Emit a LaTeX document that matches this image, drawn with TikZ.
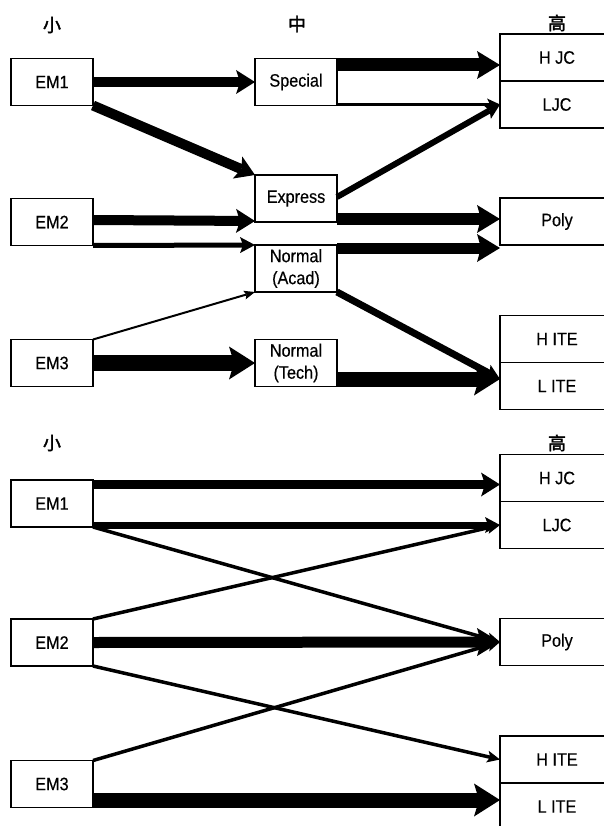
\documentclass[tikz,border=0pt]{standalone}
\usepackage{fontspec}
\setmainfont{Liberation Sans}[FakeStretch=0.9, FakeBold=0.4]
\newfontfamily\cjkfont{Noto Sans CJK SC}[FakeBold=2]
\usetikzlibrary{positioning,arrows.meta}

\tikzset{
  box/.style={draw, line width=1.4pt, outer sep=0pt, inner sep=0pt,
    minimum width=82pt, minimum height=47pt, align=center,
    font=\fontsize{18}{22}\selectfont},
  rbox/.style={box, minimum width=114pt},
  head/.style={font=\cjkfont\fontsize{18}{18}\selectfont},
  flowxl/.style={line width=16pt, -{Stealth[length=26pt, width=33pt, inset=5pt, line width=0pt]}},
  flowl/.style={line width=12pt, -{Stealth[length=23pt, width=28pt, inset=4pt, line width=0pt]}},
  flowm/.style={line width=10pt, -{Stealth[length=19pt, width=24pt, inset=4pt, line width=0pt]}},
  flows/.style={line width=6pt, -{Stealth[length=15pt, width=16pt, inset=3pt, line width=0pt]}},
  flowxs/.style={line width=3.5pt, -{Stealth[length=13pt, width=12pt, inset=3pt, line width=0pt]}},
  flowthin/.style={line width=2pt, -{Stealth[length=11pt, width=9pt, inset=2pt, line width=0pt]}}
}

\begin{document}
\begin{tikzpicture}[x=1pt, y=-1pt]
  \useasboundingbox (0,0) rectangle (603,826);

  % Define vertices (upper chart)
  \node[head] (s1) at (52,25) {小};
  \node[head] (m1) at (297,24) {中};
  \node[head] (h1) at (557,23) {高};
  \node[box] (EM1) at (52,82) {EM1};
  \node[box] (EM2) at (52,222) {EM2};
  \node[box] (EM3) at (52,363) {EM3};
  \node[box, right=162pt of EM1] (Special) {Special};
  \node[box] (Express) at (296,198.5) {Express};
  \node[box, below=23pt of Express] (Acad) {Normal\\(Acad)};
  \node[box, right=162pt of EM3] (Tech) {Normal\\(Tech)};
  \node[rbox] (HJC) at (557,57.5) {H JC};
  \node[rbox, below=0pt of HJC] (LJC) {LJC};
  \node[rbox] (Poly) at (557,221.5) {Poly};
  \node[rbox] (HITE) at (557,339) {H ITE};
  \node[rbox, below=0pt of HITE] (LITE) {L ITE};

  % Draw flow lines (upper chart)
  \draw[flowm] (EM1.east) -- (Special.west);
  \draw[flowl, line width=13pt] ([yshift=-6.5pt]Special.north east) -- ([yshift=-6.5pt]Special.north east -| HJC.west);
  \draw[flowxs] ([yshift=1pt]Special.south east) -- (LJC.west);
  \draw[flowm] (EM1.south east) -- (Express.north west);
  \draw[flows] ([yshift=1.5pt]Express.east) -- (LJC.west);
  \draw[flowm] ([yshift=2pt]EM2.east) -- ([yshift=1pt]Express.south west);
  \draw[flowl] ([yshift=3pt]Express.south east) -- ([yshift=3pt]Express.south east -| Poly.west);
  \draw[flows, line width=5pt] (EM2.south east) -- (Acad.north west);
  \draw[flowl, line width=11pt] ([yshift=-3pt]Acad.north east) -- ([yshift=-3pt]Acad.north east -| Poly.west);
  \draw[flowthin] (EM3.north east) -- (Acad.south west);
  \draw[flows, line width=7pt] (Acad.south east) -- ([yshift=7pt]LITE.west);
  \draw[flowxl] (EM3.east) -- (Tech.west);
  \draw[flowxl, line width=15pt] ([yshift=7.5pt]Tech.south east) -- ([yshift=7.5pt]Tech.south east -| LITE.west);

  % Define vertices (lower chart)
  \node[head] (s2) at (52,443) {小};
  \node[head] (h2) at (557,443) {高};
  \node[box] (EM1b) at (52,503.5) {EM1};
  \node[box] (EM2b) at (52,642.5) {EM2};
  \node[box] (EM3b) at (52,784) {EM3};
  \node[rbox] (HJCb) at (557,478) {H JC};
  \node[rbox, below=0pt of HJCb] (LJCb) {LJC};
  \node[rbox] (Polyb) at (557,642) {Poly};
  \node[rbox] (HITEb) at (557,759.5) {H ITE};
  \node[rbox, below=0pt of HITEb] (LITEb) {L ITE};

  % Draw flow lines (lower chart)
  \draw[flowm, line width=9pt] ([yshift=-4.5pt]EM1b.north east) -- ([yshift=-4.5pt]EM1b.north east -| HJCb.west);
  \draw[flows, line width=7pt] ([yshift=2pt]EM1b.south east) -- (LJCb.west);
  \draw[flowxs] (EM1b.south east) -- (Polyb.west);
  \draw[flowxs] (EM2b.north east) -- (LJCb.west);
  \draw[flowl, line width=11pt] (EM2b.east) -- (Polyb.west);
  \draw[flowxs] (EM2b.south east) -- (HITEb.west);
  \draw[flowxs] (EM3b.north east) -- (Polyb.west);
  \draw[flowxl, line width=15pt] ([yshift=7.5pt]EM3b.south east) -- ([yshift=7.5pt]EM3b.south east -| LITEb.west);
\end{tikzpicture}
\end{document}
